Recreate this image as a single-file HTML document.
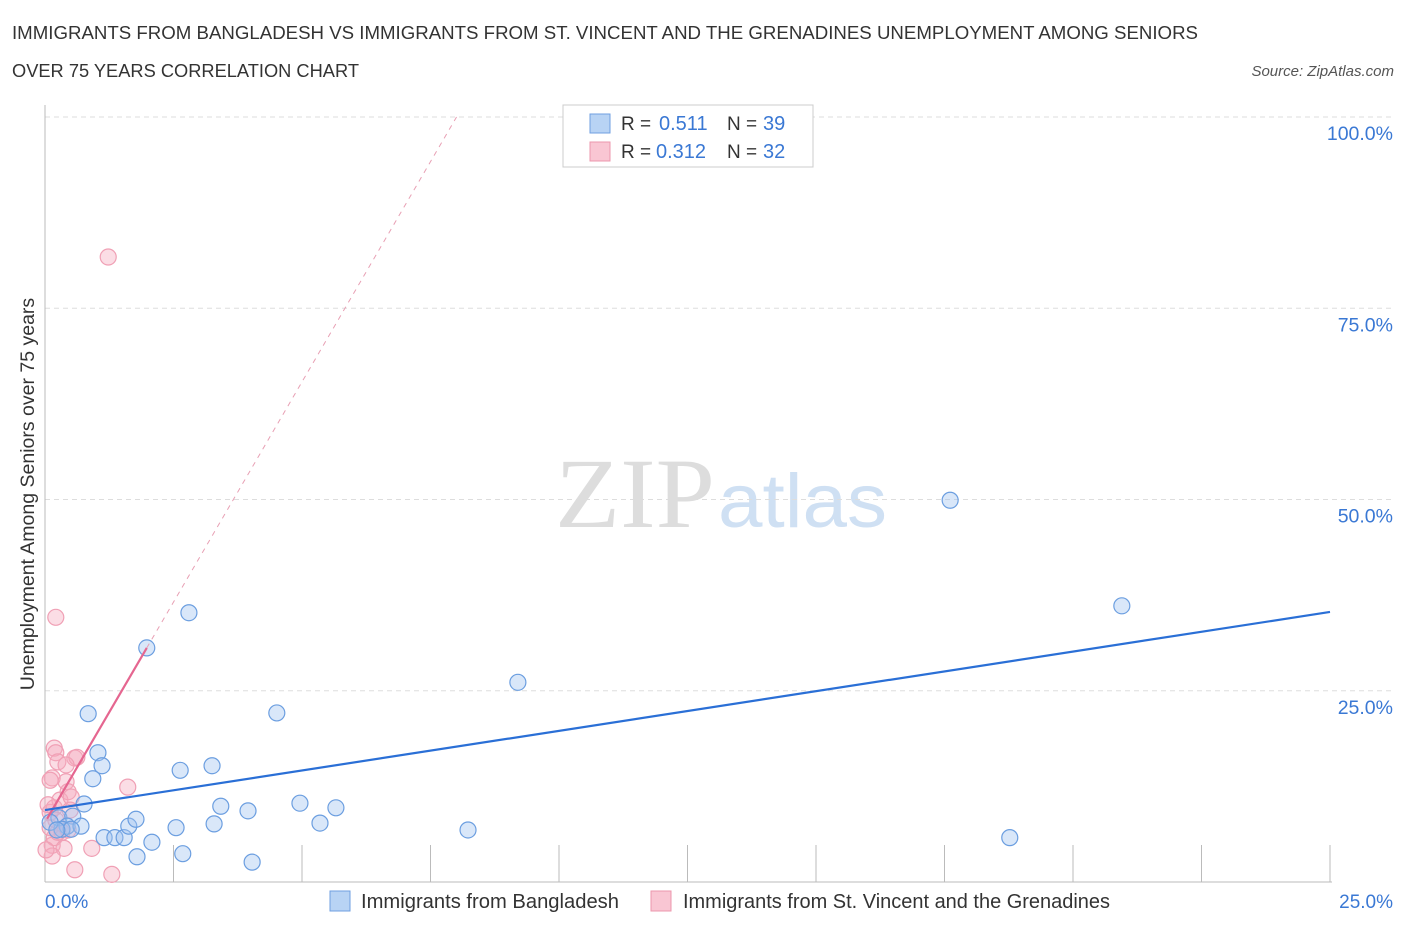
<!DOCTYPE html>
<html><head><meta charset="utf-8"><style>
body{margin:0;background:#fff;font-family:"Liberation Sans",sans-serif;}
</style></head><body>
<svg width="1406" height="930" xmlns="http://www.w3.org/2000/svg" font-family="Liberation Sans, sans-serif">
<text x="12" y="39" font-size="18" fill="#333" textLength="1186" lengthAdjust="spacingAndGlyphs">IMMIGRANTS FROM BANGLADESH VS IMMIGRANTS FROM ST. VINCENT AND THE GRENADINES UNEMPLOYMENT AMONG SENIORS</text>
<text x="12" y="77" font-size="18" fill="#333" textLength="347" lengthAdjust="spacingAndGlyphs">OVER 75 YEARS CORRELATION CHART</text>
<text x="1394" y="76" font-size="15" fill="#555" font-style="italic" text-anchor="end">Source: ZipAtlas.com</text>
<text x="555" y="527" font-size="100" fill="#ddd" font-family="Liberation Serif, serif" textLength="160" lengthAdjust="spacingAndGlyphs">ZIP</text>
<text x="718" y="527" font-size="76" fill="#cfe0f3" textLength="169" lengthAdjust="spacingAndGlyphs">atlas</text>
<g id="grid"></g>
<g id="marks"></g>
<text transform="translate(34,494) rotate(-90)" font-size="19.5" fill="#333" text-anchor="middle">Unemployment Among Seniors over 75 years</text>
<text x="45" y="908" font-size="19" fill="#3a78d4">0.0%</text>
<text x="1393" y="908" font-size="19" fill="#3a78d4" text-anchor="end">25.0%</text>
<g>
<rect x="563" y="105" width="250" height="62" fill="#fff" stroke="#ccc"/>
<rect x="590" y="114" width="20" height="19" fill="#b8d3f4" stroke="#6f9fe0"/>
<text x="621" y="130" font-size="19" fill="#333">R =</text><text x="659" y="130" font-size="20" fill="#3a78d4">0.511</text>
<text x="727" y="130" font-size="19" fill="#333">N =</text><text x="763" y="130" font-size="20" fill="#3a78d4">39</text>
<rect x="590" y="142" width="20" height="19" fill="#f9c6d3" stroke="#ec97ad"/>
<text x="621" y="158" font-size="19" fill="#333">R =</text><text x="656" y="158" font-size="20" fill="#3a78d4">0.312</text>
<text x="727" y="158" font-size="19" fill="#333">N =</text><text x="763" y="158" font-size="20" fill="#3a78d4">32</text>
</g>
<g>
<rect x="330" y="891" width="20" height="20" fill="#b8d3f4" stroke="#6f9fe0"/>
<text x="361" y="908" font-size="20" fill="#333" textLength="258" lengthAdjust="spacingAndGlyphs">Immigrants from Bangladesh</text>
<rect x="651" y="891" width="20" height="20" fill="#f9c6d3" stroke="#ec97ad"/>
<text x="683" y="908" font-size="20" fill="#333" textLength="427" lengthAdjust="spacingAndGlyphs">Immigrants from St. Vincent and the Grenadines</text>
</g>
</svg>
<script>
const yTicks=[25,50,75,100];
const yTickLabels=["25.0%","50.0%","75.0%","100.0%"];
const xTicks=[2.5,5,7.5,10,12.5,15,17.5,20,22.5,25];
const blueX=[1.98,2.80,0.84,1.03,1.11,0.93,0.76,0.27,0.54,0.43,0.70,0.33,0.51,0.10,1.15,1.36,1.54,1.63,1.77,1.79,2.08,2.55,2.63,2.68,3.25,3.29,3.42,3.95,4.03,4.51,4.96,5.35,5.66,8.23,9.20,17.61,18.77,20.95,0.23];
const blueY=[30.6,35.2,22.0,16.9,15.2,13.5,10.2,8.4,8.6,7.3,7.3,6.9,6.9,7.8,5.8,5.8,5.8,7.3,8.2,3.3,5.2,7.1,14.6,3.7,15.2,7.6,9.9,9.3,2.6,22.1,10.3,7.7,9.7,6.8,26.1,49.9,5.8,36.1,6.8];
const pinkX=[1.23,0.21,0.18,0.21,0.14,0.25,0.10,0.18,0.29,0.33,0.41,0.45,0.51,0.58,0.62,0.41,1.61,0.91,0.58,1.30,0.14,0.18,0.10,0.21,0.25,0.37,0.45,0.06,0.10,0.14,0.02,0.49];
const pinkY=[81.7,34.6,17.5,16.9,13.6,15.7,9.1,9.7,10.7,6.5,13.1,11.8,11.1,16.2,16.3,15.3,12.4,4.4,1.6,1.0,4.8,5.8,7.1,8.1,6.5,4.4,6.8,10.1,13.3,3.4,4.2,9.4];
const blueTrend=[9.4,35.3];
const pinkTrend=[7.8,30.6];
const pinkTrendEndX=1.98;

const NS="http://www.w3.org/2000/svg";
const X0=45,X1=1330,Y0=882,Y100=117;
const sx=v=>X0+(v/25)*(X1-X0);
const sy=v=>Y0-(v/100)*(Y0-Y100);
function mk(tag,attrs,parent){const e=document.createElementNS(NS,tag);for(const k in attrs)e.setAttribute(k,attrs[k]);parent.appendChild(e);return e;}
const grid=document.getElementById('grid'),marks=document.getElementById('marks');
yTicks.forEach((t,i)=>{
 const l=mk('line',{x1:X0,x2:1393,y1:sy(t),y2:sy(t),stroke:'#ddd','stroke-dasharray':'5,4'},grid);
 
 
 const tx=mk('text',{x:1393,y:sy(t)+23,'font-size':19.5,fill:'#3a78d4','text-anchor':'end'},grid);
 tx.textContent=yTickLabels[i];
 
 
});
const ax=mk('line',{x1:X0,x2:X0,y1:105,y2:Y0,stroke:'#bbb'},grid);


const bx=mk('line',{x1:X0,x2:X1+2,y1:Y0,y2:Y0,stroke:'#bbb'},grid);


xTicks.forEach(t=>{
 const l=mk('line',{x1:sx(t),x2:sx(t),y1:845,y2:Y0,stroke:'#bbb'},grid);
 
 
});
pinkX.forEach((x,i)=>{
 const c=mk('circle',{cx:sx(x),cy:sy(pinkY[i]),r:8,fill:'rgba(246,170,190,0.4)',stroke:'#f0a0b5','stroke-width':1.2},marks);
 
 
});
blueX.forEach((x,i)=>{
 const c=mk('circle',{cx:sx(x),cy:sy(blueY[i]),r:8,fill:'rgba(160,195,240,0.4)',stroke:'#6b9ee0','stroke-width':1.2},marks);
 
 
});
const slope=(pinkTrend[1]-pinkTrend[0])/pinkTrendEndX;
const xAt100=(100-pinkTrend[0])/slope;
const pd=mk('line',{x1:sx(pinkTrendEndX),y1:sy(pinkTrend[1]),x2:sx(xAt100),y2:sy(100),stroke:'#e8a0b4','stroke-width':1,'stroke-dasharray':'5,5'},marks);


const pl=mk('line',{x1:sx(0.04),y1:sy(pinkTrend[0]+0.04*slope),x2:sx(pinkTrendEndX),y2:sy(pinkTrend[1]),stroke:'#e56690','stroke-width':2.2},marks);


const bl=mk('line',{x1:sx(0),y1:sy(blueTrend[0]),x2:sx(25),y2:sy(blueTrend[1]),stroke:'#2a6fd6','stroke-width':2.2},marks);


</script>
</body></html>
